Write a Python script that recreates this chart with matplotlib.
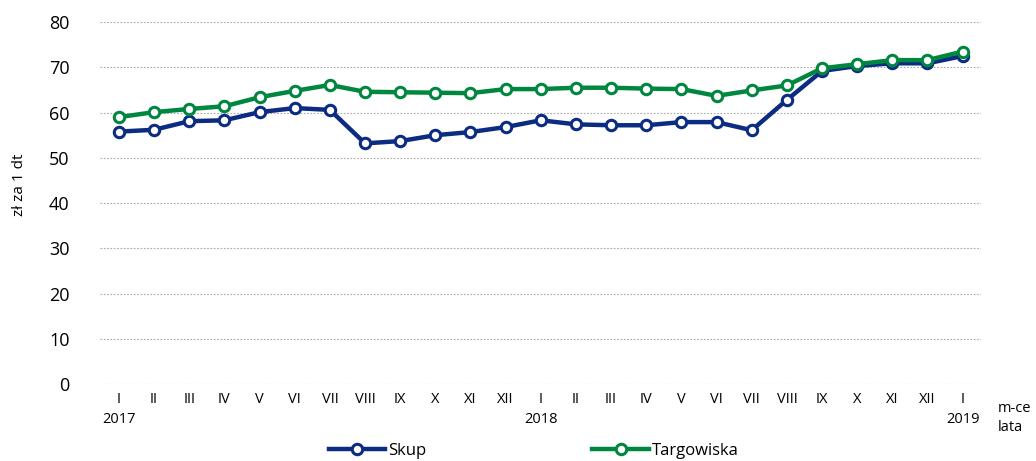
import matplotlib
matplotlib.use("Agg")
import matplotlib.pyplot as plt

months = ["I", "II", "III", "IV", "V", "VI", "VII", "VIII", "IX", "X", "XI", "XII",
          "I", "II", "III", "IV", "V", "VI", "VII", "VIII", "IX", "X", "XI", "XII", "I"]
years = {0: "2017", 12: "2018", 24: "2019"}
skup = [55.8, 56.2, 58.1, 58.3, 60.1, 61.0, 60.6, 53.2, 53.7, 55.0, 55.7, 56.8,
        58.3, 57.4, 57.2, 57.2, 57.9, 57.9, 56.1, 62.8, 69.2, 70.3, 70.9, 70.9, 72.5]
targ = [59.0, 60.1, 60.8, 61.4, 63.4, 64.8, 66.1, 64.6, 64.5, 64.4, 64.3, 65.2,
        65.2, 65.5, 65.5, 65.3, 65.2, 63.7, 64.9, 66.0, 69.8, 70.7, 71.6, 71.6, 73.5]

plt.rcParams['font.family'] = ['Open Sans', 'DejaVu Sans']

fig = plt.figure(figsize=(10.36, 4.61), dpi=100)
ax = fig.add_axes([0.0965, 0.167, 0.85, 0.785])

x = list(range(len(months)))
navy = "#0c2c84"
green = "#00873f"
ax.plot(x, skup, color=navy, lw=3.2, marker='o', ms=7.5, mfc='white', mec=navy, mew=2.2,
        label="Skup", zorder=3)
ax.plot(x, targ, color=green, lw=3.2, marker='o', ms=7.5, mfc='white', mec=green, mew=2.2,
        label="Targowiska", zorder=4)

ax.set_xlim(-0.54, 24.51)
ax.set_ylim(0, 80)
ax.set_yticks(range(0, 81, 10))
ax.tick_params(axis='y', labelsize=13, length=0, pad=22)
ax.set_xticks(x)
labels = [m + ("\n" + years[i] if i in years else "\n") for i, m in enumerate(months)]
ax.set_xticklabels(labels, fontsize=10.5, linespacing=1.45)
ax.tick_params(axis='x', length=0, pad=6)
for s in ax.spines.values():
    s.set_visible(False)
ax.yaxis.grid(True, color='#aaaaaa', linestyle=(0, (1.5, 1.5)), lw=0.8)
ax.set_axisbelow(True)
ax.set_ylabel("zł za 1 dt", fontsize=11, labelpad=8)
ax.yaxis.set_label_coords(-0.083, 0.55)

fig.text(998 / 1036, 1 - 418 / 461, "m-ce\nlata", fontsize=10.5, va='center', ha='left',
         linespacing=1.3)

fig.legend(loc='center', bbox_to_anchor=(0.515, 0.022), ncol=2, frameon=False,
           fontsize=12, handlelength=3.4, handletextpad=0.15, columnspacing=10)

fig.savefig("out.png", dpi=100)
